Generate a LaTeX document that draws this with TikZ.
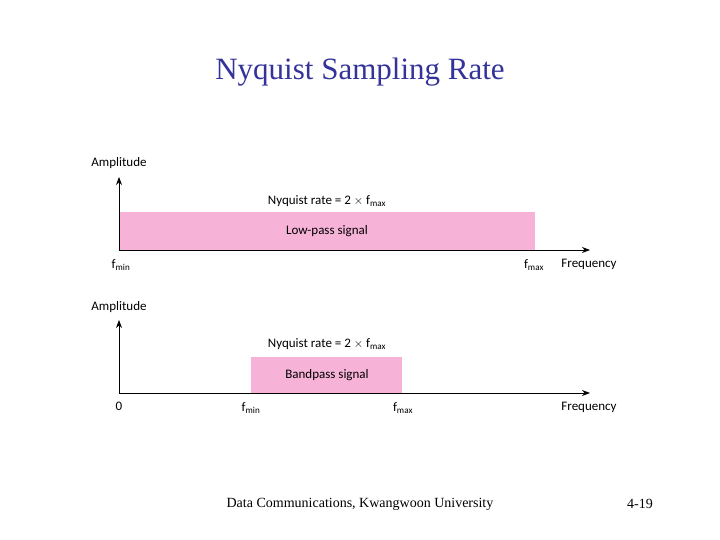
\documentclass[tikz,border=0pt]{standalone}
\usetikzlibrary{arrows.meta}
\usepackage{fontspec}
\setmainfont{Liberation Serif}
\newfontfamily\dfont{Carlito}
\definecolor{pinkfill}{HTML}{F7B2D8}
\definecolor{titleblue}{HTML}{333399}
\begin{document}
\begin{tikzpicture}[x=1pt,y=-1pt,
  lbl/.style={font=\dfont\fontsize{13}{15}\selectfont,inner sep=0pt},
  axis/.style={-{Stealth[length=8pt,width=6pt]},line width=0.9pt},
  band/.style={fill=pinkfill,draw=none}]
\useasboundingbox (0,0) rectangle (720,540);
\node[font=\fontsize{31}{36}\selectfont,text=titleblue] (title) at (360,72) {Nyquist Sampling Rate};
% top
\fill[band] (119,212) rectangle (535,250);
\coordinate (o1) at (119,250);
\coordinate (y1) at (119,177);
\coordinate (x1) at (590,250);
\draw[axis] (o1) -- (y1);
\draw[axis] (o1) -- (x1);
\node[lbl] (amp1) at (119,163) {Amplitude};
\node[lbl] (nr1) at (327,201) {Nyquist rate = 2 $\times$\ f\textsubscript{max}};
\node[lbl] (lp) at (327,231) {Low-pass signal};
\node[lbl] (fmin1) at (121,265) {f\textsubscript{min}};
\node[lbl] (fmax1) at (534,265) {f\textsubscript{max}};
\node[lbl] (fr1) at (589,264) {Frequency};
% bottom
\fill[band] (251,357) rectangle (402,393);
\coordinate (o2) at (119,393);
\coordinate (y2) at (119,320);
\coordinate (x2) at (590,393);
\draw[axis] (o2) -- (y2);
\draw[axis] (o2) -- (x2);
\node[lbl] (amp2) at (119,307) {Amplitude};
\node[lbl] (nr2) at (327,344) {Nyquist rate = 2 $\times$\ f\textsubscript{max}};
\node[lbl] (bp) at (327,375) {Bandpass signal};
\node[lbl] (zero) at (119,406) {0};
\node[lbl] (fmin2) at (251,408) {f\textsubscript{min}};
\node[lbl] (fmax2) at (403,408) {f\textsubscript{max}};
\node[lbl] (fr2) at (589,407) {Frequency};
\node[font=\fontsize{14}{16}\selectfont] (foot) at (360,504) {Data Communications, Kwangwoon University};
\node[font=\fontsize{14}{16}\selectfont] (page) at (640,504) {4-19};
\end{tikzpicture}
\end{document}
